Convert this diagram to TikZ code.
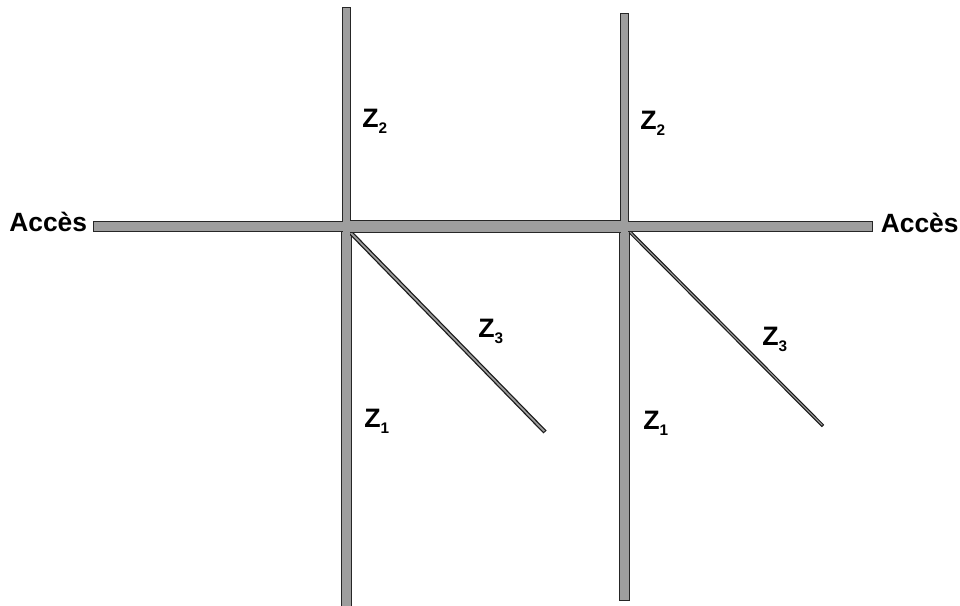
\documentclass[tikz,border=0pt]{standalone}
\usepackage{fontspec}
\setmainfont{Liberation Sans}
\definecolor{linegray}{gray}{0.62}
\tikzset{
  line/.style={fill=linegray,draw=black!85,line width=0.75pt},
  joint/.style={fill=linegray,draw=none},
  lbl/.style={font=\fontsize{19.8}{22}\selectfont\bfseries,inner sep=0pt,anchor=base west},
  zlbl/.style={font=\fontsize{20}{22}\selectfont\bfseries,inner sep=0pt,anchor=base west}
}
\newcommand{\zsub}[1]{Z\raisebox{-4.5pt}{\fontsize{11.5}{12}\selectfont #1}}
\begin{document}
\begin{tikzpicture}[x=0.75pt,y=-0.75pt]
\useasboundingbox (0,0) rectangle (960,606);
% vertical lines
\draw[line] (342.5,8) rectangle (350.5,226);
\draw[line] (341.5,226) rectangle (351.5,606);
\draw[line] (620.5,13.5) rectangle (628.5,226);
\draw[line] (619.5,226) rectangle (629.5,600.5);
% diagonals
\draw[black!90,line width=3.2pt] (350,232) -- (545,432);
\draw[linegray,line width=1.3pt,shorten >=0.8pt] (350,232) -- (545,432);
\draw[black!90,line width=2.6pt] (630,232) -- (823,426);
\draw[linegray,line width=0.8pt,shorten >=0.8pt] (630,232) -- (823,426);
% horizontal line
\draw[line] (93.5,221.5) rectangle (346,231.5);
\draw[line] (346,220.5) rectangle (625,232.5);
\draw[line] (625,221.5) rectangle (872.5,231.5);
% crossings
\fill[joint] (343.2,218) rectangle (349.8,235);
\fill[joint] (341,222.2) rectangle (352,230.8);
\fill[joint] (621.2,218) rectangle (627.8,235);
\fill[joint] (618,222.2) rectangle (630,230.8);
% labels
\node[lbl] (a1) at (9,231.5) {Accès};
\node[lbl] (a2) at (880.5,232.5) {Accès};
\node[zlbl] (z2a) at (362,128) {\zsub{2}};
\node[zlbl] (z2b) at (640,130) {\zsub{2}};
\node[zlbl] (z3a) at (478,337) {\zsub{3}};
\node[zlbl] (z3b) at (762,345) {\zsub{3}};
\node[zlbl] (z1a) at (364,427) {\zsub{1}};
\node[zlbl] (z1b) at (643,429) {\zsub{1}};
\end{tikzpicture}
\end{document}
